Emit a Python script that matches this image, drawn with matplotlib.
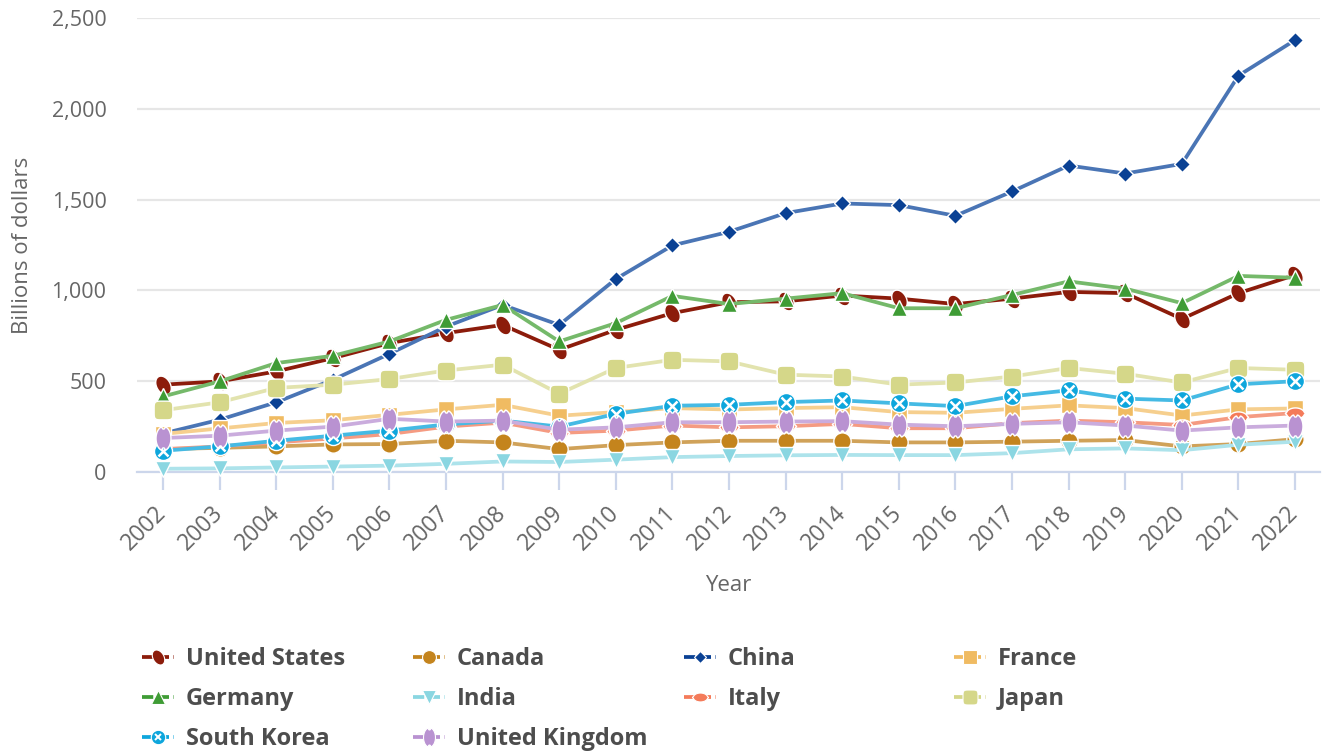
import numpy as np
import matplotlib.pyplot as plt
from matplotlib.path import Path
from matplotlib.lines import Line2D
from matplotlib.legend_handler import HandlerTuple
from matplotlib.ticker import FuncFormatter

years = list(range(2002, 2023))

us = [481, 499, 554, 627, 710, 765, 810, 673, 783, 875, 935, 940, 972, 955, 925, 955, 992, 985, 843, 985, 1085]
canada = [126, 133, 141, 152, 154, 172, 163, 126, 148, 163, 172, 172, 172, 163, 163, 167, 172, 176, 141, 154, 181]
china = [212, 288, 384, 508, 651, 801, 920, 810, 1063, 1248, 1323, 1426, 1479, 1470, 1411, 1545, 1688, 1644, 1697, 2183, 2379]
france = [210, 240, 270, 285, 315, 345, 370, 310, 330, 352, 344, 352, 357, 330, 326, 348, 367, 352, 311, 345, 350]
germany = [416, 499, 600, 640, 719, 838, 920, 719, 820, 970, 925, 955, 985, 902, 902, 975, 1050, 1010, 930, 1080, 1070]
india = [18, 20, 25, 30, 35, 45, 58, 55, 68, 82, 88, 92, 94, 93, 93, 104, 125, 130, 120, 150, 167]
italy = [126, 141, 163, 185, 209, 250, 272, 215, 228, 256, 246, 252, 265, 241, 241, 269, 283, 274, 259, 302, 325]
japan = [340, 384, 463, 481, 512, 559, 591, 431, 573, 618, 609, 536, 526, 481, 493, 526, 573, 541, 493, 573, 563]
skorea = [117, 141, 172, 200, 228, 262, 283, 250, 320, 365, 370, 385, 394, 378, 363, 417, 450, 404, 394, 483, 500]
uk = [187, 200, 228, 250, 293, 278, 283, 233, 246, 274, 274, 278, 280, 261, 252, 265, 274, 256, 228, 246, 256]

plt.rcParams['font.family'] = ['Open Sans', 'DejaVu Sans']


# custom marker shapes
def poly(x, y):
    v = np.column_stack([x, y])
    v = np.vstack([v, v[:1]])
    codes = [Path.MOVETO] + [Path.LINETO] * (len(v) - 2) + [Path.CLOSEPOLY]
    return Path(v, codes)


t = np.linspace(0, 2 * np.pi, 80, endpoint=False)
# US: tilted blob
ex, ey = 1.0 * np.cos(t), 0.68 * np.sin(t)
ang = np.deg2rad(-60)
blob = poly(ex * np.cos(ang) - ey * np.sin(ang), ex * np.sin(ang) + ey * np.cos(ang))
# Italy: flat ellipse with side nubs
r_it = 1 + 0.12 * np.exp(-((np.cos(t) ** 2 - 1) / 0.02) ** 2)
flat = poly(r_it * np.cos(t), 0.62 * np.sin(t))
# UK: tall pinched oval
dent = 1 - 0.22 * np.exp(-((np.sin(t) - 1) / 0.02) ** 2) - 0.22 * np.exp(-((np.sin(t) + 1) / 0.02) ** 2)
bean = poly(0.62 * np.cos(t), dent * np.sin(t))
# Japan: rounded square
squircle = poly(np.sign(np.cos(t)) * np.abs(np.cos(t)) ** 0.4, np.sign(np.sin(t)) * np.abs(np.sin(t)) ** 0.4)

series = [
    ("United States", us, '#8c1c0b', '#8c1c0b', blob, 13.5),
    ("Canada", canada, '#c4841d', '#d0a259', 'o', 12.5),
    ("China", china, '#0a4194', '#4a75b5', 'D', 7.8),
    ("France", france, '#f0bb62', '#f6cf8e', 's', 12),
    ("Germany", germany, '#3f9c35', '#75b96a', '^', 12),
    ("India", india, '#8ad6e1', '#ade3eb', 'v', 12),
    ("Italy", italy, '#f47b5a', '#f59b82', flat, 14.5),
    ("Japan", japan, '#d5d789', '#e2e3ae', squircle, 13.5),
    ("South Korea", skorea, '#0ea6dc', '#45bae4', 'o', 13),
    ("United Kingdom", uk, '#b992d1', '#caacdd', bean, 16.5),
]

fig = plt.figure(figsize=(13.29, 7.54), dpi=100)
ax = fig.add_axes([0.1031, 0.374, 0.8901, 0.602])

handles = []
for i, (name, vals, mc, lc, mk, ms) in enumerate(series):
    ax.plot(years, vals, color=lc, lw=2.7, zorder=3 + i, solid_joinstyle='round')
    ax.plot(years, vals, ls='none', marker=mk, ms=ms, mfc=mc, mec='white', mew=1,
            zorder=3 + i, clip_on=False)
    h = Line2D([], [], color=mc, lw=2.7, marker=mk, ms=ms * 0.8,
               mfc=mc, mec='white', mew=0.8, dashes=(3, 1.2))
    if name == "South Korea":
        ax.plot(years, vals, ls='none', marker='x', ms=6.5, mec='white', mew=1.8,
                zorder=3 + i, clip_on=False)
        hx = Line2D([], [], ls='none', marker='x', ms=5, mec='white', mew=1.4)
        h = (h, hx)
    handles.append(h)

ax.set_xlim(2001.54, 2022.44)
ax.set_ylim(0, 2500)
ax.set_yticks(range(0, 2501, 500))
ax.yaxis.set_major_formatter(FuncFormatter(lambda v, p: f"{int(v):,}"))
ax.set_xticks(years)
ax.grid(axis='y', color='#e6e6e6', lw=1.6, zorder=0)
ax.set_axisbelow(True)
for s in ['top', 'right', 'left']:
    ax.spines[s].set_visible(False)
ax.spines['bottom'].set_color('#ccd6eb')
ax.spines['bottom'].set_linewidth(1.6)
ax.spines['bottom'].set_zorder(2)

ax.tick_params(axis='y', length=0, pad=22, labelsize=15.5, labelcolor='#666666')
ax.tick_params(axis='x', length=13, width=1.6, color='#ccd6eb', pad=14,
               labelsize=16.5, labelcolor='#666666')
for lab in ax.get_xticklabels():
    lab.set_rotation(45)
    lab.set_ha('right')
    lab.set_va('center')
    lab.set_rotation_mode('anchor')

ax.set_xlabel("Year", fontsize=16, color='#666666', va='center')
ax.xaxis.set_label_coords(0.5, -0.25)
ax.set_ylabel("Billions of dollars", fontsize=16, color='#666666', va='center')
ax.yaxis.set_label_coords(-0.097, 0.5)

# legend, laid out in four columns
names = [s[0] for s in series]
col_x = [142, 413, 684, 954]
for c in range(4):
    idx = list(range(c, len(series), 4))
    leg = fig.legend([handles[k] for k in idx], [names[k] for k in idx],
                     loc='upper left', bbox_to_anchor=(col_x[c] / 1329, 1 - 647 / 754),
                     frameon=False, borderpad=0, borderaxespad=0,
                     handlelength=1.35, handletextpad=0.5, labelspacing=0.68,
                     handler_map={tuple: HandlerTuple(ndivide=1)},
                     prop={'size': 17, 'weight': 'bold'})
    for txt in leg.get_texts():
        txt.set_color('#4d4d4d')

fig.savefig("out.png", dpi=100)
